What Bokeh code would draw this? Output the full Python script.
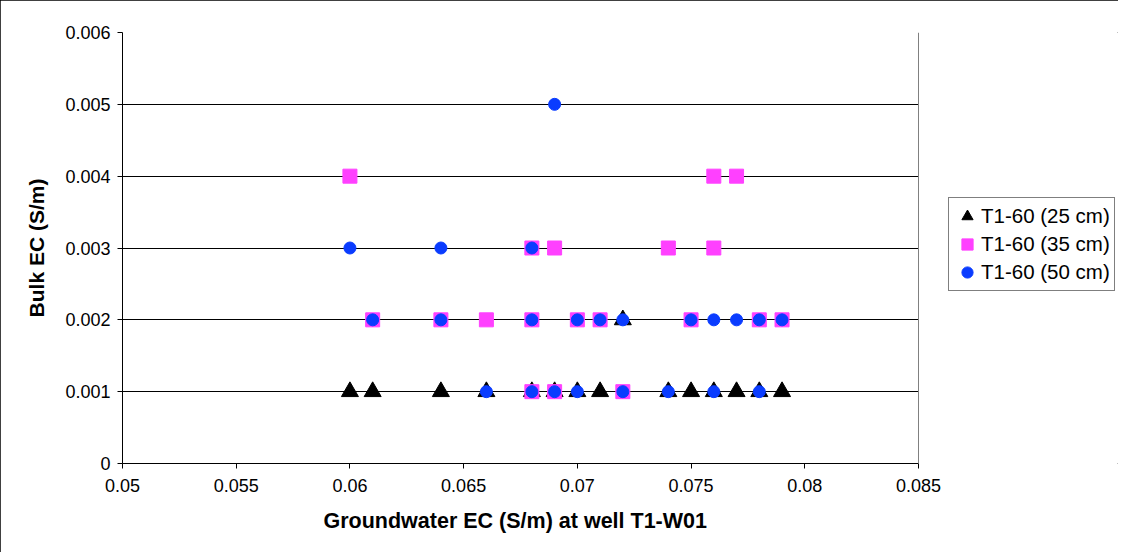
from bokeh.plotting import figure
from bokeh.models import FixedTicker, Legend, LegendItem, Grid, Span, Title
from bokeh.embed import file_html
from bokeh.resources import INLINE

# 25 cm
x25 = [0.060, 0.061, 0.064, 0.066, 0.068, 0.069, 0.070, 0.071, 0.072, 0.074, 0.075, 0.076, 0.077, 0.078, 0.079]
y25 = [0.001, 0.001, 0.001, 0.001, 0.001, 0.001, 0.001, 0.001, 0.002, 0.001, 0.001, 0.001, 0.001, 0.001, 0.001]
# 35 cm
x35 = [0.060, 0.076, 0.077,
       0.068, 0.069, 0.074, 0.076,
       0.061, 0.064, 0.066, 0.068, 0.070, 0.071, 0.075, 0.078, 0.079,
       0.068, 0.069, 0.072]
y35 = [0.004, 0.004, 0.004,
       0.003, 0.003, 0.003, 0.003,
       0.002, 0.002, 0.002, 0.002, 0.002, 0.002, 0.002, 0.002, 0.002,
       0.001, 0.001, 0.001]
# 50 cm
x50 = [0.069,
       0.060, 0.064, 0.068,
       0.061, 0.064, 0.068, 0.070, 0.071, 0.072, 0.075, 0.076, 0.077, 0.078, 0.079,
       0.066, 0.068, 0.069, 0.070, 0.072, 0.074, 0.076, 0.078]
y50 = [0.005,
       0.003, 0.003, 0.003,
       0.002, 0.002, 0.002, 0.002, 0.002, 0.002, 0.002, 0.002, 0.002, 0.002, 0.002,
       0.001, 0.001, 0.001, 0.001, 0.001, 0.001, 0.001, 0.001]

series_names = ["T1-60 (25 cm)", "T1-60 (35 cm)", "T1-60 (50 cm)"]
x_min, x_max = 0.05, 0.085
y_min, y_max = 0.0, 0.006
x_ticks = [0.05, 0.055, 0.06, 0.065, 0.07, 0.075, 0.08, 0.085]
x_tick_labels = ["0.05", "0.055", "0.06", "0.065", "0.07", "0.075", "0.08", "0.085"]
y_ticks = [0, 0.001, 0.002, 0.003, 0.004, 0.005, 0.006]
y_tick_labels = ["0", "0.001", "0.002", "0.003", "0.004", "0.005", "0.006"]
grid_levels = [0.001, 0.002, 0.003, 0.004, 0.005]
x_title = "Groundwater EC (S/m) at well T1-W01"
y_title = "Bulk EC (S/m)"

FONT = "Liberation Sans"

# Layout (pixels): plot area 796 px wide, the frame extends to the right edge
W, H = 1118, 552
LEFT, TOP, BOTTOM = 122, 32, 89
PLOT_W = 796
frame_w = W - LEFT
x_end = x_min + (x_max - x_min) * frame_w / PLOT_W

p = figure(width=W, height=H, output_backend="svg", toolbar_location=None,
           x_range=(x_min, x_end), y_range=(y_min, y_max),
           min_border_left=LEFT, min_border_right=0, min_border_top=TOP, min_border_bottom=BOTTOM)
p.styles = {"outline": "1px solid black", "outline-offset": "-1px"}

p.xaxis.ticker = FixedTicker(ticks=x_ticks)
p.yaxis.ticker = FixedTicker(ticks=y_ticks)
p.xaxis.bounds = (x_min, x_max)
p.xaxis.major_label_overrides = {t: l for t, l in zip(x_ticks, x_tick_labels)}
p.yaxis.major_label_overrides = {t: l for t, l in zip(y_ticks, y_tick_labels)}
for ax in (p.xaxis[0], p.yaxis[0]):
    ax.minor_tick_line_color = None
    ax.major_tick_in = 0
    ax.major_tick_out = 5
    ax.major_label_text_font = FONT
    ax.major_label_text_font_size = "18px"
    ax.major_label_text_color = "black"
    ax.axis_line_color = "black"
    ax.major_tick_line_color = "black"
    ax.axis_label_text_font = FONT
    ax.axis_label_text_font_style = "bold"
    ax.axis_label_text_color = "black"
p.yaxis.axis_label_text_font_size = "21px"
p.yaxis.axis_label = y_title
p.xaxis.major_label_standoff = 10
p.yaxis.major_label_standoff = 7
p.yaxis.axis_label_standoff = 14

xt = Title(text=x_title, align="left", offset=201, text_font=FONT, text_font_size="21.5px",
           text_font_style="bold", text_color="black", standoff=25)
p.add_layout(xt, "below")

p.xgrid.grid_line_color = None
p.ygrid.ticker = FixedTicker(ticks=grid_levels)
p.ygrid.cross_bounds = (x_min, x_max)
p.ygrid.grid_line_color = "black"
p.ygrid.grid_line_width = 1
top_grid = Grid(dimension=1, ticker=FixedTicker(ticks=[y_max]), cross_bounds=(x_min, x_max),
                grid_line_color="#808080", grid_line_width=1)
p.add_layout(top_grid)
p.add_layout(Span(location=x_max, dimension="height", line_color="#808080", line_width=1))
p.outline_line_color = None
p.background_fill_color = "white"

r1 = p.scatter(x25, y25, marker="triangle", size=17, fill_color="black", line_color="black")
r2 = p.scatter(x35, y35, marker="square", size=14, fill_color="#FF40FF", line_color="#FF40FF")
r3 = p.scatter(x50, y50, marker="circle", size=12, fill_color="#0A3CFF", line_color="#0A3CFF")

legend = Legend(items=[LegendItem(label=series_names[0], renderers=[r1]),
                       LegendItem(label=series_names[1], renderers=[r2]),
                       LegendItem(label=series_names[2], renderers=[r3])],
                location=(826, 172), orientation="vertical",
                border_line_color="black", border_line_width=1,
                label_text_font=FONT, label_text_font_size="20.5px", label_text_color="black",
                glyph_width=28, glyph_height=28, label_standoff=0,
                spacing=0, padding=4, margin=0,
                background_fill_alpha=1)
p.add_layout(legend, "center")

open("out.html", "w").write(file_html(p, INLINE))
